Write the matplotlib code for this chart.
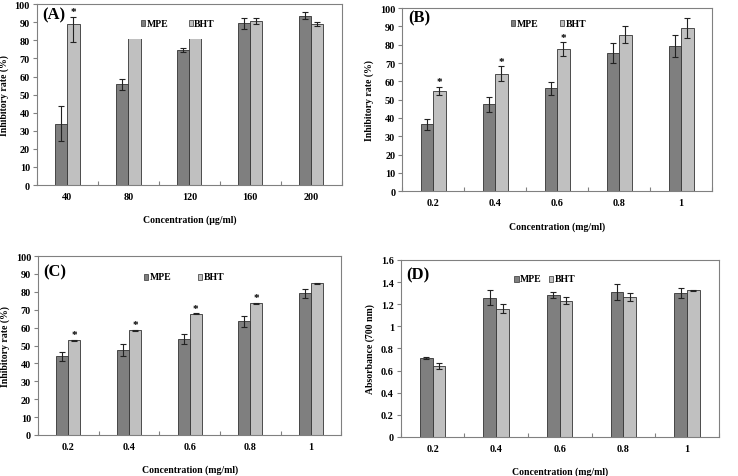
import matplotlib
matplotlib.use("Agg")
import matplotlib.pyplot as plt
import numpy as np
from matplotlib.patches import Rectangle

plt.rcParams['font.family'] = ['Liberation Serif', 'DejaVu Serif']
plt.rcParams['font.weight'] = 'bold'

# ---------------- data ----------------
cats_A = ["40", "80", "120", "160", "200"]
mpe_A = [34.0, 55.8, 74.6, 89.4, 93.6]
mpe_A_err_lo = [9.8, 3.0, 1.0, 3.0, 2.0]
mpe_A_err_hi = [9.8, 3.0, 1.0, 3.0, 2.0]
bht_A = [89.2, 90.5, 91.0, 90.8, 89.0]
bht_A_err_lo = [10.0, 1.5, 1.5, 1.5, 1.3]
bht_A_err_hi = [4.0, 1.5, 1.5, 1.5, 1.3]
star_A = [True, False, False, False, False]

cats_B = ["0.2", "0.4", "0.6", "0.8", "1"]
mpe_B = [36.5, 47.4, 56.2, 75.4, 79.2]
mpe_B_err = [3.0, 4.3, 3.5, 5.3, 6.0]
bht_B = [54.7, 64.2, 77.6, 85.4, 89.2]
bht_B_err = [2.4, 4.0, 3.7, 4.6, 5.5]
star_B = [True, True, True, False, False]

cats_C = ["0.2", "0.4", "0.6", "0.8", "1"]
mpe_C = [43.9, 47.4, 53.9, 63.6, 79.2]
mpe_C_err = [2.6, 3.3, 2.8, 3.0, 2.6]
bht_C = [53.0, 58.6, 67.8, 73.6, 84.9]
bht_C_err = [0.3, 0.3, 0.3, 0.3, 0.3]
star_C = [True, True, True, True, False]

cats_D = ["0.2", "0.4", "0.6", "0.8", "1"]
mpe_D = [0.713, 1.26, 1.284, 1.311, 1.30]
mpe_D_err = [0.005, 0.07, 0.025, 0.075, 0.045]
bht_D = [0.64, 1.16, 1.233, 1.263, 1.326]
bht_D_err = [0.025, 0.04, 0.035, 0.035, 0.005]
star_D = [False, False, False, False, False]

MPE_C = '#7f7f7f'
BHT_C = '#c0c0c0'
SPINE = '#808080'

fig = plt.figure(figsize=(7.38, 4.77), dpi=100)

panels = [
    dict(rect=[0.050, 0.610, 0.413, 0.379], cats=cats_A, mpe=mpe_A, me=[mpe_A_err_lo, mpe_A_err_hi],
         bht=bht_A, be=[bht_A_err_lo, bht_A_err_hi],
         star=star_A, ylim=(0, 100), yticks=np.arange(0, 101, 10), ylabel="Inhibitory rate (%)",
         xlabel="Concentration (\u03bcg/ml)", tag="(A)", tagpos=(0.016, 0.945),
         leg=((0.348, 0.895), (0.505, 0.895)), cover=True),
    dict(rect=[0.545, 0.597, 0.420, 0.384], cats=cats_B, mpe=mpe_B, me=[mpe_B_err, mpe_B_err],
         bht=bht_B, be=[bht_B_err, bht_B_err],
         star=star_B, ylim=(0, 100), yticks=np.arange(0, 101, 10), ylabel="Inhibitory rate (%)",
         xlabel="Concentration (mg/ml)", tag="(B)", tagpos=(0.02, 0.951),
         leg=((0.358, 0.918), (0.516, 0.918)), cover=False),
    dict(rect=[0.0515, 0.086, 0.411, 0.375], cats=cats_C, mpe=mpe_C, me=[mpe_C_err, mpe_C_err],
         bht=bht_C, be=[bht_C_err, bht_C_err],
         star=star_C, ylim=(0, 100), yticks=np.arange(0, 101, 10), ylabel="Inhibitory rate (%)",
         xlabel="Concentration (mg/ml)", tag="(C)", tagpos=(0.017, 0.912),
         leg=((0.356, 0.884), (0.535, 0.884)), cover=False),
    dict(rect=[0.543, 0.082, 0.431, 0.371], cats=cats_D, mpe=mpe_D, me=[mpe_D_err, mpe_D_err],
         bht=bht_D, be=[bht_D_err, bht_D_err],
         star=star_D, ylim=(0, 1.6), yticks=np.arange(0, 1.61, 0.2), ylabel="Absorbance (700 nm)",
         xlabel="Concentration (mg/ml)", tag="(D)", tagpos=(0.018, 0.92),
         leg=((0.364, 0.893), (0.472, 0.893)), cover=False),
]

bw = 0.2
for p in panels:
    ax = fig.add_axes(p['rect'])
    n = len(p['cats'])
    x = np.arange(n)
    ax.bar(x - bw / 2, p['mpe'], bw, color=MPE_C, edgecolor='#333333', linewidth=0.6, zorder=2)
    ax.bar(x + bw / 2, p['bht'], bw, color=BHT_C, edgecolor='#333333', linewidth=0.6, zorder=2)
    ax.errorbar(x - bw / 2, p['mpe'], yerr=np.array(p['me']), fmt='none', ecolor='#222222', elinewidth=0.8,
                capsize=2, capthick=0.8, zorder=2.1)
    ax.errorbar(x + bw / 2, p['bht'], yerr=np.array(p['be']), fmt='none', ecolor='#222222', elinewidth=0.8,
                capsize=2, capthick=0.8, zorder=2.1)
    yr = p['ylim'][1] - p['ylim'][0]
    for i in range(n):
        if p['star'][i]:
            ax.text(x[i] + bw / 2, p['bht'][i] + p['be'][1][i] + 0.003 * yr, "*", ha='center', va='bottom',
                    fontsize=8, fontweight='bold', zorder=2.2)
    if p['cover']:
        ax.add_patch(Rectangle((0.29, 0.81), 0.31, 0.18, transform=ax.transAxes, facecolor='white',
                               edgecolor='none', zorder=2.3))
    ax.set_xlim(-0.5, n - 0.5)
    ax.set_ylim(*p['ylim'])
    ax.set_yticks(p['yticks'])
    ax.set_yticklabels([f"{v:g}" for v in np.round(p['yticks'], 1)])
    ax.set_xticks(np.arange(-0.5, n, 1.0))
    ax.set_xticklabels([])
    ax.set_xticks(x, minor=True)
    ax.set_xticklabels(p['cats'], minor=True)
    ax.tick_params(axis='x', which='major', direction='in', length=3, color=SPINE, width=0.8)
    ax.tick_params(axis='x', which='minor', length=0, labelsize=7.3, pad=5)
    ax.tick_params(axis='y', direction='out', length=3, color=SPINE, width=0.8, labelsize=7.3, pad=2)
    for lab in ax.get_xticklabels(minor=True) + ax.get_yticklabels():
        lab.set_fontweight('bold')
    for s in ax.spines.values():
        s.set_color(SPINE)
        s.set_linewidth(0.8)
    ax.set_xlabel(p['xlabel'], fontsize=7, fontweight='bold', labelpad=10)
    ax.set_ylabel(p['ylabel'], fontsize=7, fontweight='bold', labelpad=4)
    ax.text(p['tagpos'][0], p['tagpos'][1], p['tag'], transform=ax.transAxes, fontsize=12,
            fontweight='bold', ha='left', va='center', zorder=4)
    for (lx, ly), col, name in zip(p['leg'], [MPE_C, BHT_C], ["MPE", "BHT"]):
        ax.add_patch(Rectangle((lx - 0.007, ly - 0.016), 0.014, 0.032, transform=ax.transAxes,
                               facecolor=col, edgecolor='#333333', linewidth=0.5, zorder=4))
        ax.text(lx + 0.011, ly, name, transform=ax.transAxes, fontsize=7, fontweight='bold',
                ha='left', va='center', zorder=4)

fig.savefig("out.png", dpi=100)
